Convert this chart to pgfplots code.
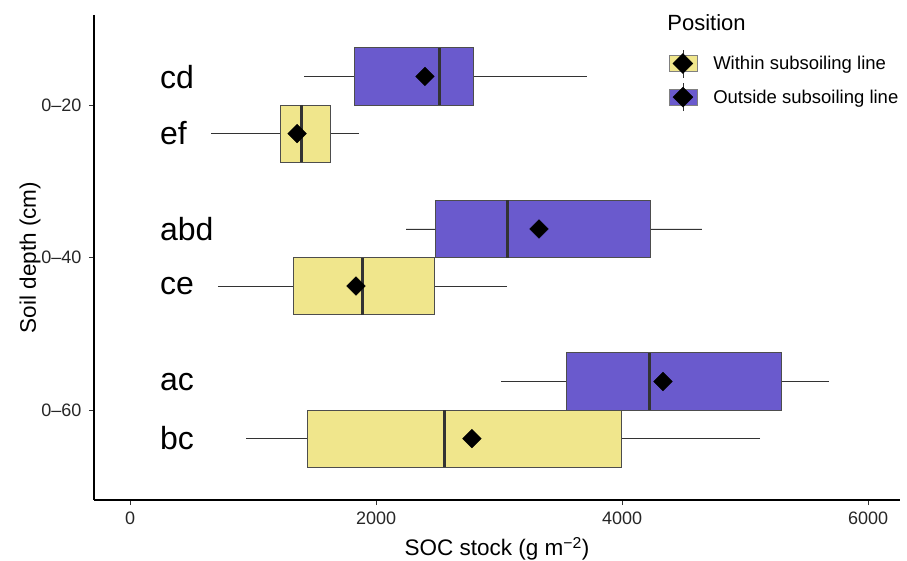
\documentclass[border=0pt]{standalone}
\usepackage{pgfplots}
\pgfplotsset{compat=1.18}
\usepgfplotslibrary{statistics}
\usepackage{fontspec}
\setmainfont{Liberation Sans}

\definecolor{within}{HTML}{F0E68C}
\definecolor{outside}{HTML}{6A5ACD}
\definecolor{edge}{HTML}{333333}
\definecolor{boxedge}{HTML}{4D4D4D}

\pgfplotsset{
  boxplot/draw/median/.code={%
    \draw[line width=3pt, edge]
      (boxplot box cs:\pgfplotsboxplotvalue{median},0) --
      (boxplot box cs:\pgfplotsboxplotvalue{median},1);},
  boxplot/every whisker/.style={line width=0.7pt, edge},
  socbox/.style={draw=boxedge, fill=#1, line width=0.8pt, forget plot},
}

\begin{document}
\begin{tikzpicture}
\useasboundingbox (-94pt,-61pt) rectangle (813pt,500pt);
\begin{axis}[
  scale only axis, width=806pt, height=485pt,
  xmin=-293, xmax=6260, ymin=-0.59, ymax=2.59, y dir=reverse,
  axis lines*=left,
  axis line style={line width=1.1pt, black},
  xtick={0,2000,4000,6000},
  ytick={0,1,2}, yticklabels={0--20,0--40,0--60},
  tick align=outside, major tick length=5pt,
  tick style={edge, line width=0.8pt},
  /pgf/number format/1000 sep={},
  /pgf/number format/assume math mode=true,
  ticklabel style={font=\fontsize{18}{20}\selectfont, text=black!85},
  x tick label style={yshift=-3pt},
  y tick label style={xshift=-4pt},
  label style={font=\fontsize{22.5}{26}\selectfont},
  xlabel={SOC stock (g m\textsuperscript{−2})},
  ylabel={Soil depth (cm)},
  x label style={at={(axis description cs:0.5,-0.101)}, anchor=center},
  y label style={at={(axis description cs:-0.0794,0.5)}, anchor=center},
  clip=false,
  legend style={at={(axis description cs:0.709,0.934)}, anchor=north west,
    draw=none, fill=none, font=\fontsize{18.5}{20}\selectfont, row sep=5pt,
    /tikz/every odd column/.append style={column sep=14pt}},
  legend cell align=left,
]
% 0-20
\addplot[socbox=outside, boxplot prepared={draw position=-0.1875,
  lower whisker=1415, lower quartile=1821, median=2520,
  upper quartile=2789, upper whisker=3715, box extend=0.375, whisker extend=0}]
  coordinates {};
\addplot[socbox=within, boxplot prepared={draw position=0.1875,
  lower whisker=659, lower quartile=1220, median=1398,
  upper quartile=1626, upper whisker=1862, box extend=0.375, whisker extend=0}]
  coordinates {};
% 0-40
\addplot[socbox=outside, boxplot prepared={draw position=0.8125,
  lower whisker=2244, lower quartile=2480, median=3065,
  upper quartile=4228, upper whisker=4650, box extend=0.375, whisker extend=0}]
  coordinates {};
\addplot[socbox=within, boxplot prepared={draw position=1.1875,
  lower whisker=715, lower quartile=1325, median=1886,
  upper quartile=2472, upper whisker=3065, box extend=0.375, whisker extend=0}]
  coordinates {};
% 0-60
\addplot[socbox=outside, boxplot prepared={draw position=1.8125,
  lower whisker=3016, lower quartile=3545, median=4220,
  upper quartile=5293, upper whisker=5683, box extend=0.375, whisker extend=0}]
  coordinates {};
\addplot[socbox=within, boxplot prepared={draw position=2.1875,
  lower whisker=943, lower quartile=1439, median=2553,
  upper quartile=3992, upper whisker=5122, box extend=0.375, whisker extend=0}]
  coordinates {};

% means
\addplot[only marks, mark=square*, mark size=6.6pt,
  mark options={rotate=45, fill=black, draw=black}, forget plot]
  coordinates {(2398,-0.1875) (1358,0.1875) (3325,0.8125)
               (1837,1.1875) (4333,1.8125) (2780,2.1875)};

% legend
\addlegendimage{legend image code/.code={
  \draw[fill=within, draw=gray, line width=0.6pt] (0pt,-8pt) rectangle (28pt,8pt);
  \draw[edge, line width=0.6pt] (14pt,-14pt) -- (14pt,14pt);
  \fill[black] (4pt,0pt) -- (14pt,10pt) -- (24pt,0pt) -- (14pt,-10pt) -- cycle;}}
\addlegendentry{Within subsoiling line}
\addlegendimage{legend image code/.code={
  \draw[fill=outside, draw=gray, line width=0.6pt] (0pt,-8pt) rectangle (28pt,8pt);
  \draw[edge, line width=0.6pt] (14pt,-14pt) -- (14pt,14pt);
  \fill[black] (4pt,0pt) -- (14pt,10pt) -- (24pt,0pt) -- (14pt,-10pt) -- cycle;}}
\addlegendentry{Outside subsoiling line}

% group letters
\node[anchor=west, font=\fontsize{32}{36}\selectfont] at (axis cs:215,-0.185) {cd};
\node[anchor=west, font=\fontsize{32}{36}\selectfont] at (axis cs:215,0.185) {ef};
\node[anchor=west, font=\fontsize{32}{36}\selectfont] at (axis cs:215,0.815) {abd};
\node[anchor=west, font=\fontsize{32}{36}\selectfont] at (axis cs:215,1.185) {ce};
\node[anchor=west, font=\fontsize{32}{36}\selectfont] at (axis cs:215,1.815) {ac};
\node[anchor=west, font=\fontsize{32}{36}\selectfont] at (axis cs:215,2.185) {bc};

\node[anchor=west, font=\fontsize{22}{26}\selectfont] at (axis description cs:0.707,0.985) {Position};
\end{axis}
\end{tikzpicture}
\end{document}
